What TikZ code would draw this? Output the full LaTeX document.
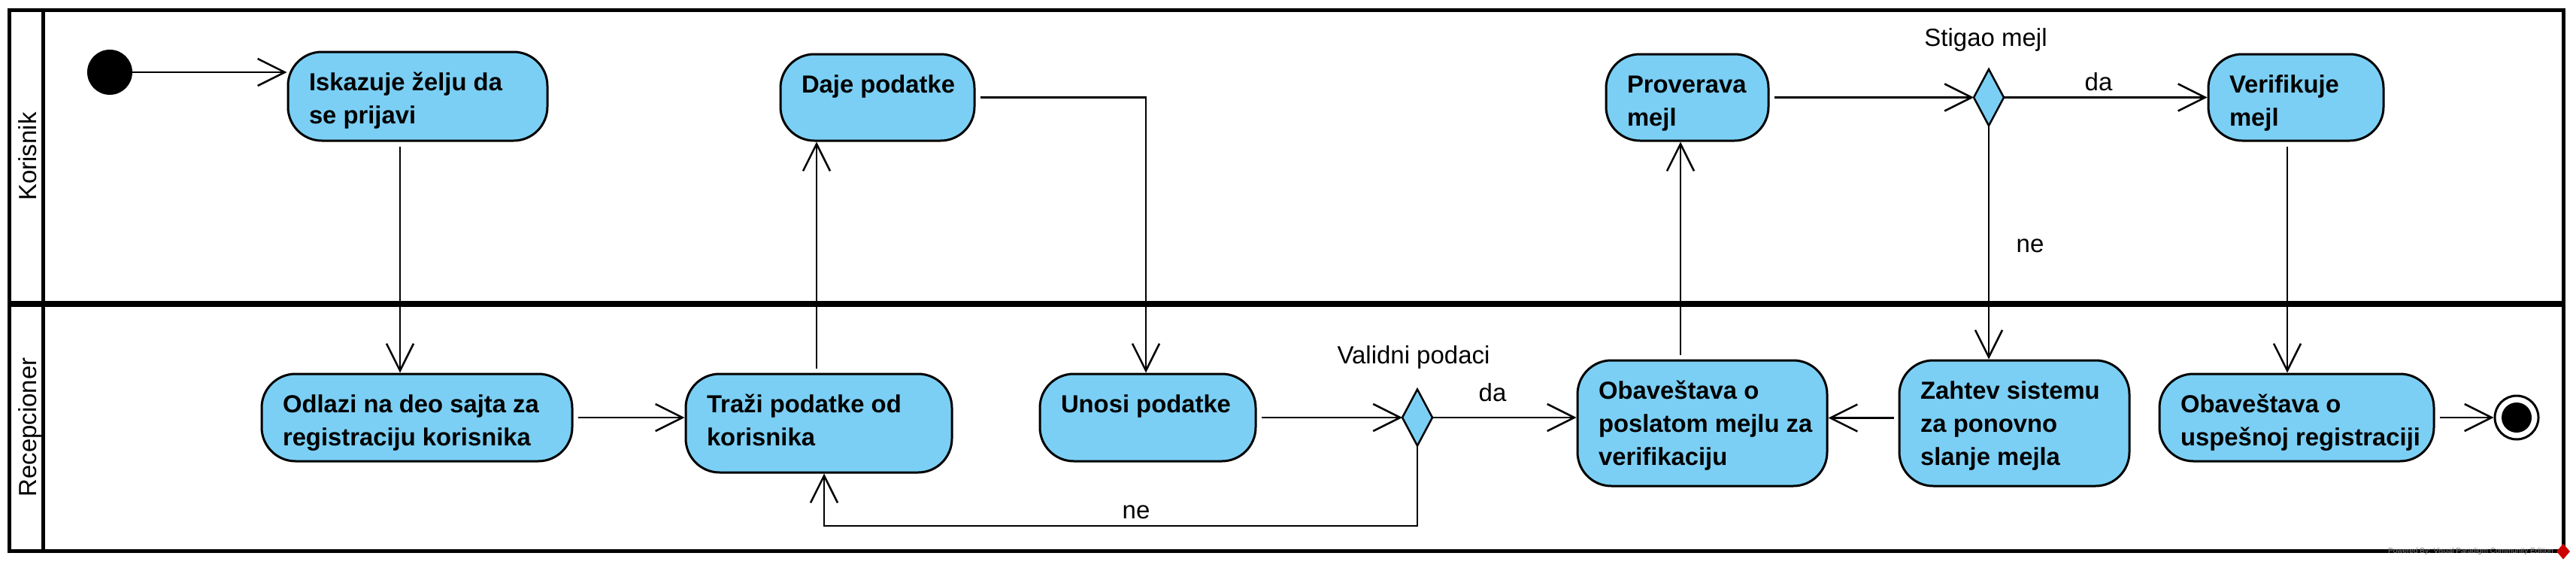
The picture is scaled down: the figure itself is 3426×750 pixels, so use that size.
\documentclass[tikz,border=0pt]{standalone}
\usepackage{fontspec}
\setmainfont{Liberation Sans}
\usetikzlibrary{arrows.meta,shapes.geometric,calc}
\definecolor{actblue}{RGB}{123,207,244}
\newcommand{\actbox}[3]{\parbox[c][#2][t]{#1}{\leftskip=28pt\rule{0pt}{51pt}#3}}
\tikzset{
  act/.style={draw=black, line width=3pt, fill=actblue, rounded corners=45pt,
    inner sep=0pt, outer sep=1.5pt, font=\bfseries\fontsize{32.8}{44}\selectfont},
  flow/.style={line width=2.5pt, -{Straight Barb[length=36pt,width=36pt]}, shorten <=6pt},
  guard/.style={font=\fontsize{33}{38}\selectfont, inner sep=0pt},
  decision/.style={diamond, draw=black, line width=2.5pt, fill=actblue,
    minimum width=40pt, minimum height=75pt, inner sep=0pt, outer sep=0pt},
  lane/.style={font=\fontsize{33}{40}\selectfont, rotate=90, anchor=base, inner sep=0pt},
}
\begin{document}
\begin{tikzpicture}[x=1pt,y=-1pt]
\useasboundingbox (0,0) rectangle (3426,750);
% swimlane frame
\draw[line width=5pt] (12,13) rectangle (3409,732);
\draw[line width=5pt] (57.5,13) -- (57.5,732);
\draw[line width=7.5pt] (12,404) -- (3409,404);
\node[lane] (lane1) at (48,208) {Korisnik};
\node[lane] (lane2) at (48,568) {Recepcioner};

% initial and final nodes
\node[circle, fill=black, minimum size=60pt, inner sep=0pt, outer sep=0pt] (start) at (146,96) {};
\node[circle, draw=black, fill=white, line width=3pt, minimum size=58pt, inner sep=0pt, outer sep=1.5pt] (end) at (3347,555) {};
\node[circle, fill=black, minimum size=40pt, inner sep=0pt] (endin) at (end.center) {};

% actions lane 1
\node[act] (n1) at (555.5,128) {\actbox{345pt}{118pt}{Iskazuje želju da\\se prijavi}};
\node[act] (n2) at (1167,129.5) {\actbox{258pt}{115pt}{Daje podatke}};
\node[act] (n3) at (2244,129.5) {\actbox{216pt}{115pt}{Proverava\\mejl}};
\node[decision] (d2) at (2645,129.5) {};
\node[act] (n10) at (3053.5,129.5) {\actbox{233pt}{115pt}{Verifikuje\\mejl}};

% actions lane 2
\node[act] (n4) at (554.5,555) {\actbox{413pt}{116pt}{Odlazi na deo sajta za\\registraciju korisnika}};
\node[act] (n5) at (1089,562.5) {\actbox{354pt}{131pt}{Traži podatke od\\korisnika}};
\node[act] (n6) at (1526.5,555) {\actbox{287pt}{116pt}{Unosi podatke}};
\node[decision] (d1) at (1885,555) {};
\node[act] (n7) at (2264,562.5) {\actbox{332pt}{167pt}{Obaveštava o\\poslatom mejlu za\\verifikaciju}};
\node[act] (n8) at (2679,562.5) {\actbox{306pt}{167pt}{Zahtev sistemu\\za ponovno\\slanje mejla}};
\node[act] (n9) at (3054.5,555) {\actbox{365pt}{116pt}{Obaveštava o\\uspešnoj registraciji}};

% guard / decision labels
\node[guard] (g1) at (1880,475) {Validni podaci};
\node[guard] (g2) at (1985,522) {da};
\node[guard] (g3) at (1511,681) {ne};
\node[guard] (g4) at (2641,53) {Stigao mejl};
\node[guard] (g5) at (2791,109) {da};
\node[guard] (g6) at (2700,327) {ne};

% connectors
\draw[flow, shorten <=0pt] (start) -- (start -| n1.west);
\coordinate (p1) at ($(n1.south)+(-23.5,0)$);
\draw[flow] (p1) -- (p1 |- n4.north);
\draw[flow] (n4.east) -- (n4.east -| n5.west);
\coordinate (p4) at ($(n5.north)+(-3,0)$);
\draw[flow] (p4) -- (p4 |- n2.south);
\coordinate (p5) at ($(n6.north)+(-2.5,0)$);
\draw[flow] (n2.east) -| (p5);
\draw[flow] (n6.east) -- (d1.west);
\draw[flow, shorten <=0pt] (d1.east) -- (d1.east -| n7.west);
\coordinate (k1) at (1096,699);
\draw[flow, shorten <=0pt] (d1.south) |- (k1) -- (k1 |- n5.south);
\coordinate (p9) at ($(n7.north)+(-29,0)$);
\draw[flow] (p9) -- (p9 |- n3.south);
\draw[flow] (n3.east) -- (d2.west);
\draw[flow, shorten <=0pt] (d2.east) -- (n10.west);
\draw[flow, shorten <=0pt] (d2.south) -- (d2.south |- n8.north);
\coordinate (p13) at ($(n8.west)+(0,-7)$);
\draw[flow] (p13) -- (p13 -| n7.east);
\coordinate (p14) at ($(n10.south)+(-11.5,0)$);
\draw[flow] (p14) -- (p14 |- n9.north);
\draw[flow] (n9.east) -- (end.west);

% watermark
\node[font=\fontsize{10}{12}\selectfont, text=gray, anchor=east, inner sep=0pt] (wm) at (3396,733) {Powered By: Visual Paradigm Community Edition};
\node[diamond, fill=red!80!black, minimum width=18pt, minimum height=21pt, inner sep=0pt] (vplogo) at (3409,733) {};
\end{tikzpicture}
\end{document}
